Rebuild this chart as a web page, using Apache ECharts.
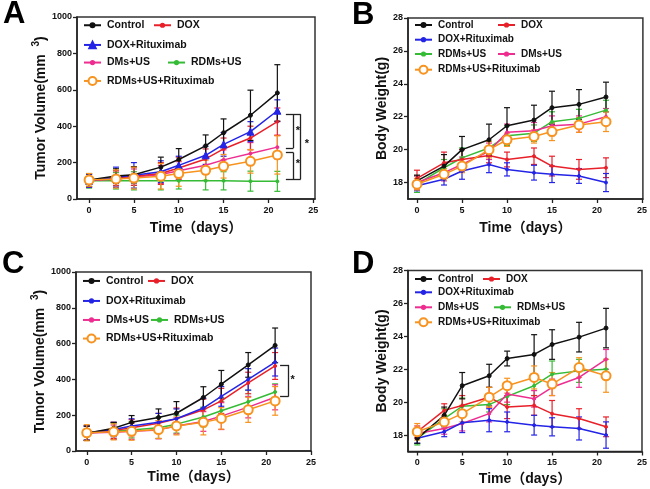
<!DOCTYPE html>
<html>
<head>
<meta charset="utf-8">
<script src="https://cdn.jsdelivr.net/npm/echarts@6/dist/echarts.min.js"></script>
<style>
html,body{margin:0;padding:0;background:#fff}
#chart{width:650px;height:489px}
</style>
</head>
<body>
<div id="chart"></div>
<script>
var days = [0, 3, 5, 8, 10, 13, 15, 18, 21];
var groups = ['Control', 'DOX', 'DOX+Rituximab', 'DMs+US', 'RDMs+US', 'RDMs+US+Rituximab'];
var xTicks = [0, 5, 10, 15, 20, 25];
var volTicks = [0, 200, 400, 600, 800, 1000];
var bwTicks = [18, 20, 22, 24, 26, 28];

// A: tumor volume
var volA_control = [104, 126, 133, 175, 217, 292, 364, 460, 583];
var volA_controlErr = [35, 40, 45, 55, 60, 60, 76, 138, 155];
var volA_dox = [100, 115, 125, 140, 170, 220, 275, 335, 425];
var volA_doxErr = [35, 40, 50, 60, 60, 55, 60, 65, 75];
var volA_doxR = [100, 120, 130, 150, 185, 240, 300, 370, 485];
var volA_doxRErr = [35, 55, 70, 60, 50, 50, 65, 55, 60];
var volA_dms = [100, 110, 120, 135, 155, 185, 215, 250, 285];
var volA_dmsErr = [35, 45, 45, 50, 50, 50, 55, 60, 65];
var volA_rdms = [100, 100, 100, 100, 100, 100, 100, 98, 97];
var volA_rdmsErr = [40, 45, 50, 50, 45, 50, 50, 55, 55];
var volA_rdmsR = [105, 110, 115, 125, 140, 158, 180, 207, 242];
var volA_rdmsRErr = [35, 50, 60, 70, 70, 55, 65, 65, 105];

// B: body weight
var bwB_control = [18.1, 19.0, 20.0, 20.6, 21.45, 21.8, 22.55, 22.75, 23.2];
var bwB_controlErr = [0.35, 0.7, 0.8, 0.95, 1.1, 0.9, 1.0, 0.9, 0.9];
var bwB_dox = [18.25, 19.2, 19.4, 19.65, 19.4, 19.6, 19.0, 18.8, 18.9];
var bwB_doxErr = [0.5, 0.65, 0.6, 0.45, 0.45, 0.5, 0.6, 0.6, 0.6];
var bwB_doxR = [17.8, 18.2, 18.7, 19.1, 18.8, 18.6, 18.5, 18.4, 18.0];
var bwB_doxRErr = [0.3, 0.35, 0.5, 0.5, 0.4, 0.45, 0.5, 0.45, 0.55];
var bwB_dms = [18.0, 18.6, 19.1, 19.9, 21.05, 21.15, 21.45, 21.55, 22.0];
var bwB_dmsErr = [0.4, 0.5, 0.45, 0.5, 0.5, 0.5, 0.6, 0.5, 0.5];
var bwB_rdms = [17.9, 18.9, 19.5, 20.1, 20.85, 21.0, 21.7, 21.9, 22.4];
var bwB_rdmsErr = [0.5, 0.5, 0.6, 0.4, 0.6, 0.5, 0.6, 0.55, 0.6];
var bwB_rdmsR = [17.9, 18.5, 19.0, 20.0, 20.6, 20.8, 21.1, 21.5, 21.7];
var bwB_rdmsRErr = [0.35, 0.35, 0.4, 0.5, 0.4, 0.4, 0.55, 0.45, 0.6];

// C: tumor volume
var volC_control = [99, 127, 160, 187, 211, 299, 373, 481, 590];
var volC_controlErr = [40, 33, 38, 48, 65, 60, 77, 69, 97];
var volC_dox = [100, 115, 130, 155, 180, 230, 280, 380, 475];
var volC_doxErr = [40, 45, 45, 55, 60, 60, 70, 60, 75];
var volC_doxR = [100, 120, 140, 160, 180, 240, 305, 400, 497];
var volC_doxRErr = [40, 40, 40, 50, 55, 55, 55, 60, 78];
var volC_dms = [100, 105, 110, 118, 140, 165, 195, 245, 300];
var volC_dmsErr = [40, 40, 45, 50, 45, 55, 75, 60, 70];
var volC_rdms = [100, 110, 118, 130, 150, 190, 225, 275, 330];
var volC_rdmsErr = [40, 45, 45, 60, 50, 55, 50, 65, 45];
var volC_rdmsR = [102, 107, 110, 120, 140, 160, 182, 230, 280];
var volC_rdmsRErr = [45, 45, 50, 50, 50, 70, 60, 70, 80];

// D: body weight
var bwD_control = [17.8, 19.2, 21.0, 21.6, 22.65, 22.9, 23.5, 23.95, 24.5];
var bwD_controlErr = [0.3, 0.5, 0.8, 0.7, 0.45, 1.2, 0.9, 0.9, 1.2];
var bwD_dox = [18.2, 19.5, 19.8, 20.3, 19.7, 19.8, 19.3, 19.0, 18.5];
var bwD_doxErr = [0.35, 0.4, 0.6, 0.6, 0.7, 0.6, 0.8, 0.6, 0.6];
var bwD_doxR = [17.8, 18.2, 18.75, 18.9, 18.8, 18.6, 18.5, 18.4, 18.0];
var bwD_doxRErr = [0.3, 0.3, 0.6, 0.7, 0.6, 0.6, 0.55, 0.7, 0.8];
var bwD_dms = [18.1, 18.4, 18.7, 19.3, 20.5, 20.2, 20.9, 21.5, 22.6];
var bwD_dmsErr = [0.3, 0.35, 0.45, 0.5, 0.5, 0.5, 0.5, 0.6, 0.6];
var bwD_rdms = [17.8, 19.0, 19.75, 19.85, 20.35, 21.0, 21.7, 21.9, 22.0];
var bwD_rdmsErr = [0.4, 0.6, 0.5, 0.45, 0.5, 0.6, 0.8, 0.7, 0.6];
var bwD_rdmsR = [18.2, 18.8, 19.3, 20.3, 21.0, 21.5, 21.1, 22.1, 21.6];
var bwD_rdmsRErr = [0.5, 0.4, 0.5, 0.6, 0.45, 0.7, 0.7, 0.6, 1.0];

// significance brackets [x1, y1, x2, y2] and stars [x, y]
var bracketA = [
  [21.95, 466, 23.6, 466], [21.95, 108, 23.6, 108], [23.6, 466, 23.6, 108],
  [22.8, 466, 22.8, 280], [21.95, 280, 22.8, 280],
  [22.8, 255, 22.8, 108], [21.95, 255, 22.8, 255]
];
var starsA = [[23.3, 375], [23.3, 190], [24.3, 300]];
var bracketC = [
  [21.55, 481, 22.5, 481], [21.55, 304, 22.5, 304], [22.5, 481, 22.5, 304]
];
var starsC = [[22.96, 397]];

var colors = {
  'Control': '#111111',
  'DOX': '#e8202a',
  'DOX+Rituximab': '#2424e6',
  'DMs+US': '#ee2d90',
  'RDMs+US': '#35bb35',
  'RDMs+US+Rituximab': '#f7931e'
};
var font = "'Liberation Sans', Arial, 'Noto Sans CJK SC', sans-serif";

var panels = [
  {grid: {left: 77, top: 17, width: 238, height: 182}, xMin: -1.35, xMax: 25.2, yMin: 0, yMax: 1000, yTicks: volTicks, vol: true, nameGapY: 17, nameGapX: 22,
    vals: [volA_control, volA_dox, volA_doxR, volA_dms, volA_rdms, volA_rdmsR],
    errs: [volA_controlErr, volA_doxErr, volA_doxRErr, volA_dmsErr, volA_rdmsErr, volA_rdmsRErr],
    brackets: bracketA, stars: starsA, triangle: true},
  {grid: {left: 408, top: 18, width: 237, height: 181}, xMin: -1, xMax: 25.1, yMin: 17, yMax: 28, yTicks: bwTicks, vol: false, nameGapY: 19, nameGapX: 22,
    vals: [bwB_control, bwB_dox, bwB_doxR, bwB_dms, bwB_rdms, bwB_rdmsR],
    errs: [bwB_controlErr, bwB_doxErr, bwB_doxRErr, bwB_dmsErr, bwB_rdmsErr, bwB_rdmsRErr]},
  {grid: {left: 76, top: 272, width: 235, height: 179}, xMin: -1.2, xMax: 25, yMin: 0, yMax: 1000, yTicks: volTicks, vol: true, nameGapY: 24, nameGapX: 19,
    vals: [volC_control, volC_dox, volC_doxR, volC_dms, volC_rdms, volC_rdmsR],
    errs: [volC_controlErr, volC_doxErr, volC_doxRErr, volC_dmsErr, volC_rdmsErr, volC_rdmsRErr],
    brackets: bracketC, stars: starsC},
  {grid: {left: 408, top: 270.5, width: 236, height: 181}, xMin: -1.03, xMax: 25, yMin: 17, yMax: 28, yTicks: bwTicks, vol: false, nameGapY: 19, nameGapX: 21,
    vals: [bwD_control, bwD_dox, bwD_doxR, bwD_dms, bwD_rdms, bwD_rdmsR],
    errs: [bwD_controlErr, bwD_doxErr, bwD_doxRErr, bwD_dmsErr, bwD_rdmsErr, bwD_rdmsRErr]}
];

// legend rows: panel, name, left, center y, font size
var legendRows = [
  [0, 'Control', 83, 26, 10.5], [0, 'DOX', 153, 26, 10.5], [0, 'DOX+Rituximab', 83, 45.7, 10.5],
  [0, 'DMs+US', 83, 63.3, 10.5], [0, 'RDMs+US', 167, 63.3, 10.5], [0, 'RDMs+US+Rituximab', 83, 81.7, 10.5],
  [1, 'Control', 414, 26, 10], [1, 'DOX', 497, 26, 10], [1, 'DOX+Rituximab', 414, 40.7, 10],
  [1, 'RDMs+US', 414, 55, 10], [1, 'DMs+US', 497, 55, 10], [1, 'RDMs+US+Rituximab', 414, 70.7, 10],
  [2, 'Control', 82, 281.7, 10.5], [2, 'DOX', 147, 281.7, 10.5], [2, 'DOX+Rituximab', 82, 301.7, 10.5],
  [2, 'DMs+US', 82, 320.7, 10.5], [2, 'RDMs+US', 150, 320.7, 10.5], [2, 'RDMs+US+Rituximab', 82, 339.3, 10.5],
  [3, 'Control', 414, 280, 10], [3, 'DOX', 482, 280, 10], [3, 'DOX+Rituximab', 414, 293.3, 10],
  [3, 'DMs+US', 414, 308.3, 10], [3, 'RDMs+US', 493, 308.3, 10], [3, 'RDMs+US+Rituximab', 414, 323.3, 10]
];

function errorBar(params, api) {
  var x = api.value(0);
  var lo = api.coord([x, api.value(1)]);
  var hi = api.coord([x, api.value(2)]);
  var cap = 3;
  var style = {stroke: api.visual('color'), lineWidth: 1.2};
  return {type: 'group', children: [
    {type: 'line', shape: {x1: lo[0], y1: lo[1], x2: hi[0], y2: hi[1]}, style: style},
    {type: 'line', shape: {x1: lo[0] - cap, y1: lo[1], x2: lo[0] + cap, y2: lo[1]}, style: style},
    {type: 'line', shape: {x1: hi[0] - cap, y1: hi[1], x2: hi[0] + cap, y2: hi[1]}, style: style}
  ]};
}

function symbolFor(name, p) {
  if (name === 'RDMs+US+Rituximab') return ['emptyCircle', 9];
  if (name === 'DOX+Rituximab' && p.triangle) return ['triangle', 7];
  if (name === 'Control') return ['circle', 4];
  return ['circle', 3];
}

// panel A's triangle series gets its own legend key so B-D keep the dot icon
function seriesName(name, p) {
  return (name === 'DOX+Rituximab' && p.triangle) ? name + ' ' : name;
}

function legendIconHeight(name, p) {
  if (name === 'RDMs+US+Rituximab') return 10;
  if (name === 'DOX+Rituximab' && p.triangle) return 8;
  if (name === 'Control') return 5;
  return 4;
}

var grids = [], xAxes = [], yAxes = [], series = [], legends = [];
var drawOrder = [4, 3, 1, 2, 0, 5];

panels.forEach(function (p, i) {
  grids.push(Object.assign({show: true, borderColor: '#333', borderWidth: 1.5, containLabel: false}, p.grid));
  xAxes.push({
    type: 'value', gridIndex: i, min: p.xMin, max: p.xMax,
    name: 'Time（days）', nameLocation: 'middle', nameGap: p.nameGapX,
    nameTextStyle: {fontFamily: font, fontWeight: 'bold', fontSize: 14, color: '#111'},
    splitLine: {show: false},
    axisLine: {show: true, onZero: false, lineStyle: {color: '#222', width: 1.5}},
    axisTick: {show: true, length: 4, customValues: xTicks, lineStyle: {color: '#222', width: 1.3}},
    axisLabel: {customValues: xTicks, margin: 7, fontFamily: font, fontWeight: 'bold', fontSize: 9, color: '#111',
      formatter: function (v) { return String(v); }}
  });
  yAxes.push({
    type: 'value', gridIndex: i, min: p.yMin, max: p.yMax,
    name: p.vol ? '{t|Tumor Volume(mm  }{s|3}{t|)}' : 'Body Weight(g)',
    nameLocation: 'middle', nameGap: p.nameGapY,
    nameTextStyle: {fontFamily: font, fontWeight: 'bold', fontSize: 14, color: '#111',
      rich: {
        t: {fontFamily: font, fontWeight: 'bold', fontSize: 14, color: '#111', lineHeight: 20},
        s: {fontFamily: font, fontWeight: 'bold', fontSize: 10, color: '#111', lineHeight: 10, verticalAlign: 'top'}
      }},
    splitLine: {show: false},
    axisLine: {show: true, onZero: false, lineStyle: {color: '#222', width: 1.5}},
    axisTick: {show: true, length: 4, customValues: p.yTicks, lineStyle: {color: '#222', width: 1.3}},
    axisLabel: {customValues: p.yTicks, margin: 5, fontFamily: font, fontWeight: 'bold', fontSize: 9, color: '#111',
      formatter: function (v) { return String(v); }}
  });

  drawOrder.forEach(function (g, k) {
    var name = groups[g];
    var vals = p.vals[g], errs = p.errs[g];
    series.push({
      type: 'custom', name: name + ' err', xAxisIndex: i, yAxisIndex: i,
      renderItem: errorBar, encode: {x: 0, y: [1, 2]}, z: 2 + k * 0.01,
      itemStyle: {color: colors[name]}, silent: true,
      data: days.map(function (d, j) { return [d, vals[j] - errs[j], vals[j] + errs[j]]; })
    });
  });
  drawOrder.forEach(function (g, k) {
    var name = groups[g];
    var vals = p.vals[g];
    var sym = symbolFor(name, p);
    var s = {
      type: 'line', name: seriesName(name, p), xAxisIndex: i, yAxisIndex: i,
      symbol: sym[0], symbolSize: sym[1], showAllSymbol: true, animation: false,
      z: 3 + k * 0.01,
      lineStyle: {color: colors[name], width: 1.5},
      itemStyle: {color: colors[name], borderColor: colors[name], borderWidth: name === 'RDMs+US+Rituximab' ? 2 : 1},
      data: days.map(function (d, j) { return [d, vals[j]]; })
    };
    if (g === 0 && p.brackets) {
      s.markLine = {
        silent: true, symbol: ['none', 'none'], animation: false,
        lineStyle: {color: '#222', width: 1.3, type: 'solid'},
        label: {show: false},
        data: p.brackets.map(function (b) { return [{coord: [b[0], b[1]]}, {coord: [b[2], b[3]]}]; })
      };
      s.markPoint = {
        silent: true, symbol: 'circle', symbolSize: 1, animation: false,
        itemStyle: {color: 'rgba(0,0,0,0)'},
        label: {show: true, formatter: '*', position: 'inside', color: '#111', fontSize: 11, fontWeight: 'bold', fontFamily: font},
        data: p.stars.map(function (st) { return {coord: st}; })
      };
    }
    series.push(s);
  });
});

legendRows.forEach(function (r) {
  var p = panels[r[0]];
  var h = legendIconHeight(r[1], p);
  legends.push({
    data: [seriesName(r[1], p)], left: r[2], top: r[3] - 6, padding: 0, orient: 'horizontal',
    itemWidth: 17, itemHeight: h, itemGap: 0, selectedMode: false,
    formatter: function (n) { return n.trim(); },
    textStyle: {fontFamily: font, fontWeight: 'bold', fontSize: r[4], color: '#111', padding: [0, 0, 0, 1]}
  });
});

var chart = echarts.init(document.getElementById('chart'), null, {renderer: 'canvas'});
chart.setOption({
  backgroundColor: '#fff',
  animation: false,
  grid: grids,
  xAxis: xAxes,
  yAxis: yAxes,
  legend: legends,
  series: series,
  graphic: [
    {type: 'text', left: 3, top: -1, style: {text: 'A', font: 'bold 31px ' + font, fill: '#000'}},
    {type: 'text', left: 352, top: 0, style: {text: 'B', font: 'bold 31px ' + font, fill: '#000'}},
    {type: 'text', left: 2, top: 249, style: {text: 'C', font: 'bold 31px ' + font, fill: '#000'}},
    {type: 'text', left: 352, top: 249, style: {text: 'D', font: 'bold 31px ' + font, fill: '#000'}}
  ]
});
</script>
</body>
</html>
